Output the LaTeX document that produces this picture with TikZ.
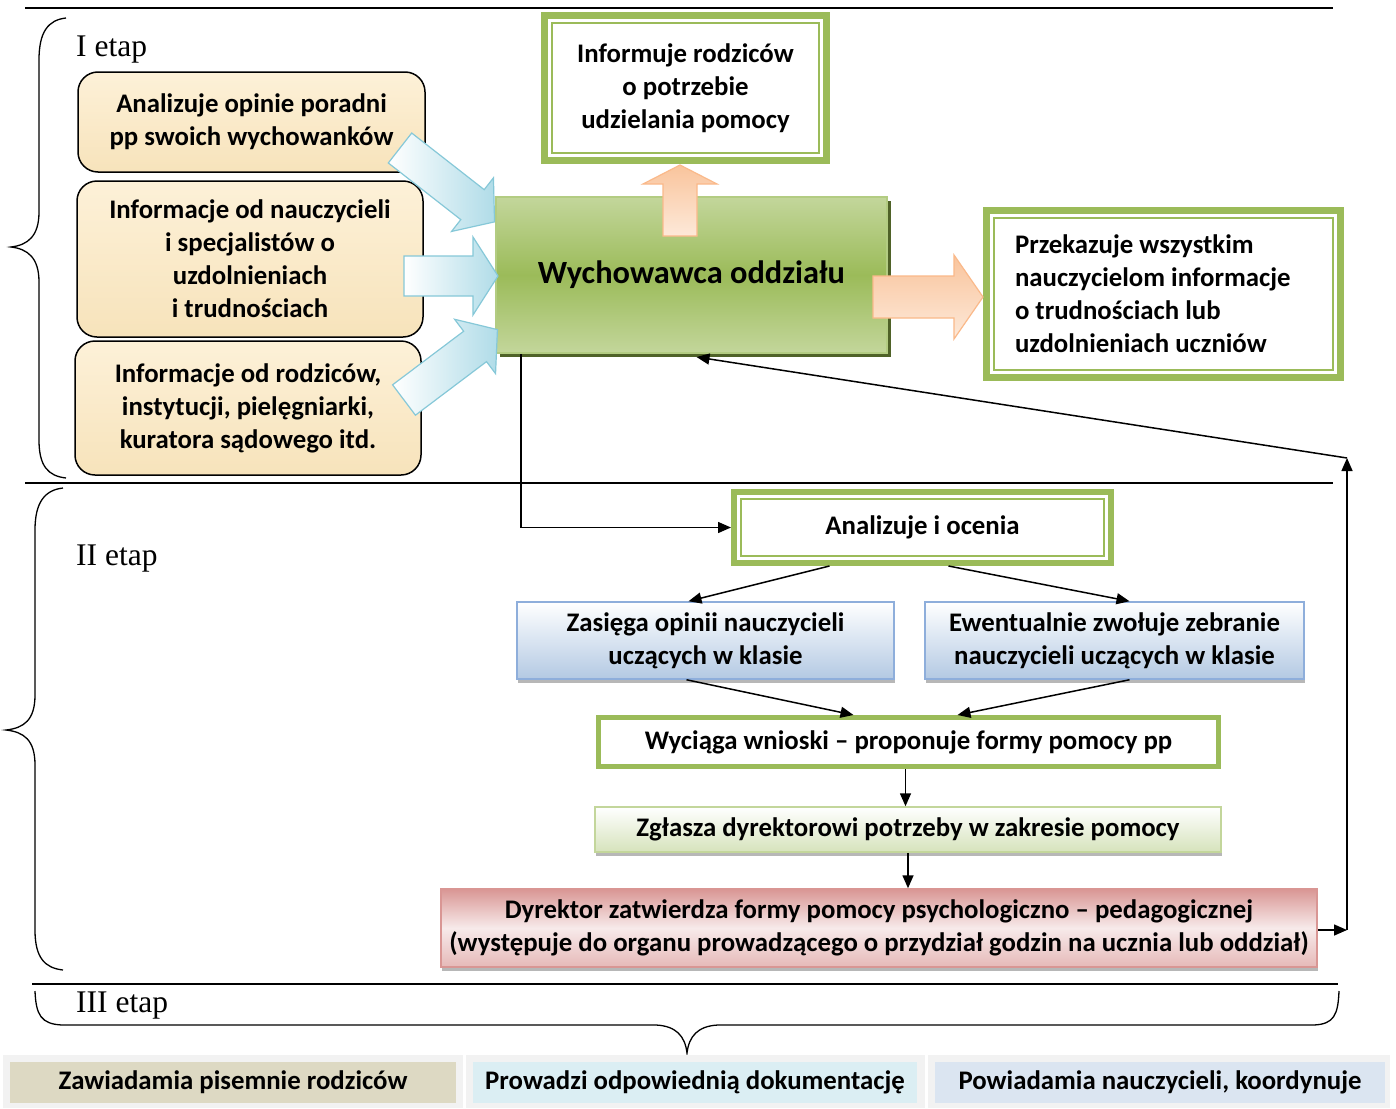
\documentclass[tikz,border=0pt]{standalone}
\usepackage{fontspec}
\setmainfont{Carlito}
\newfontfamily\stagefont{Liberation Serif}
\usetikzlibrary{calc,shadows,arrows.meta}

\definecolor{gband}{HTML}{9BBB59}
\definecolor{glight}{HTML}{C3D69B}
\definecolor{gborder}{HTML}{B3CC82}
\definecolor{gshadow}{HTML}{4F6228}
\definecolor{creamtop}{HTML}{FDF1D8}
\definecolor{creambot}{HTML}{F7E3BB}
\definecolor{bluebot}{HTML}{B3C9E3}
\definecolor{blueborder}{HTML}{8EAEDB}
\definecolor{zglbot}{HTML}{D6E3BC}
\definecolor{redtop}{HTML}{D99694}
\definecolor{redmid}{HTML}{F7EAEA}
\definecolor{redbot}{HTML}{E6B9B8}
\definecolor{redborder}{HTML}{D99694}
\definecolor{arrblue}{HTML}{B0DCE8}
\definecolor{arrblueb}{HTML}{86C8D8}
\definecolor{arrorange}{HTML}{F9C49C}
\definecolor{arrorangel}{HTML}{FDE9D9}
\definecolor{arrorangeb}{HTML}{FAB98A}
\definecolor{panelgray}{HTML}{F2F2F2}
\definecolor{boxA}{HTML}{DDD9C3}
\definecolor{boxB}{HTML}{DBEEF3}
\definecolor{boxC}{HTML}{DBE5F1}
\definecolor{hatch}{HTML}{A6A6A6}

% block arrow: style, x, y, angle, length, shaft half, head half, head length
\newcommand{\blockarr}[8]{%
  \begin{scope}[shift={(#2,#3)},rotate=#4]
    \path[#1] (0,-#6) -- ({#5-#8},-#6) -- ({#5-#8},-#7) -- (#5,0)
      -- ({#5-#8},#7) -- ({#5-#8},#6) -- (0,#6) -- cycle;
  \end{scope}}

\tikzset{
  boxtext/.style={font=\fontsize{26.8}{33}\selectfont\bfseries, align=center, inner sep=0pt},
  creambox/.style={boxtext, draw=black, line width=1.5pt, rounded corners=20pt,
    top color=creamtop, bottom color=creambot},
  framebox/.style={boxtext, draw=gband, line width=7pt, fill=white},
  innerline/.style={draw=gband, line width=1.6pt},
  bluebox/.style={boxtext, draw=blueborder, line width=1.5pt, top color=white, bottom color=bluebot,
    drop shadow={shadow xshift=1pt, shadow yshift=-4pt, fill=hatch, opacity=0.8}},
  conn/.style={line width=1.5pt, -{Triangle[length=13pt,width=11pt]}},
  bluearr/.style={left color=white, right color=arrblue, draw=arrblueb, line width=1.2pt},
  orangearr/.style={top color=arrorange, bottom color=arrorangel, draw=arrorangeb, line width=1.2pt},
  bottombox/.style={boxtext, minimum height=41pt},
  stage/.style={font=\stagefont\fontsize{31.5}{35}\selectfont, anchor=west, inner sep=0pt},
  rule/.style={line width=1.5pt},
  bracestyle/.style={line width=1.3pt}
}

\begin{document}
\begin{tikzpicture}[x=1pt,y=-1pt]
\useasboundingbox[fill=white] (0,0) rectangle (1396,1108);

% horizontal rules
\draw[rule] (25,8) -- (1333,8);
\draw[rule] (25,483) -- (1333,483);
\draw[rule] (32,984) -- (1338,984);

% braces
\draw[bracestyle] (66,18) .. controls (48,20) and (39,32) .. (39,60) -- (39,212)
  .. controls (39,236) and (28,245) .. (11,247) .. controls (28,249) and (39,258) .. (39,282)
  -- (39,440) .. controls (39,466) and (48,476) .. (66,478);
\draw[bracestyle] (63,488) .. controls (45,490) and (35,502) .. (35,530) -- (35,695)
  .. controls (35,720) and (24,728) .. (6,730) .. controls (24,732) and (35,740) .. (35,765)
  -- (35,930) .. controls (35,958) and (45,968) .. (63,970);
\draw[bracestyle] (35,991) .. controls (36,1015) and (41,1024) .. (62,1025) -- (656,1025)
  .. controls (676,1026) and (685,1036) .. (687,1053) .. controls (689,1036) and (698,1026) .. (718,1025)
  -- (1314,1025) .. controls (1334,1024) and (1338,1015) .. (1339,991);

% stage labels
\node[stage] (s1) at (76,50) {I etap};
\node[stage] (s2) at (76,559) {II etap};
\node[stage] (s3) at (76,1006) {III etap};

% ---- Stage I ----
\node[creambox, minimum width=347pt, minimum height=100pt] (l1) at (251.5,122)
  {Analizuje opinie poradni\\pp swoich wychowanków};
\node[creambox, minimum width=346pt, minimum height=156pt] (l2) at (250,259)
  {Informacje od nauczycieli\\i specjalistów o\\uzdolnieniach\\i trudnościach};
\node[creambox, minimum width=346pt, minimum height=134pt] (l3) at (248,408)
  {Informacje od rodziców,\\instytucji, pielęgniarki,\\kuratora sądowego itd.};

\node[boxtext, font=\fontsize{32.4}{36}\selectfont\bfseries, draw=gborder, line width=2pt,
  top color=glight, bottom color=glight, middle color=gband,
  minimum width=391pt, minimum height=156pt,
  drop shadow={shadow xshift=4pt, shadow yshift=-4pt, fill=gshadow, opacity=1}]
  (wych) at (691.5,275) {Wychowawca oddziału};

\node[framebox, minimum width=282pt, minimum height=145pt] (inf) at (685.5,88)
  {Informuje rodziców\\o potrzebie\\udzielania pomocy};
\draw[innerline] ($(inf.north west)+(11,11)$) rectangle ($(inf.south east)+(-11,-11)$);

\node[framebox, minimum width=354pt, minimum height=167pt, align=flush left, text width=297pt] (prz) at (1163.5,294)
  {Przekazuje wszystkim\\nauczycielom informacje\\o trudnościach lub\\uzdolnieniach uczniów};
\draw[innerline] ($(prz.north west)+(11,11)$) rectangle ($(prz.south east)+(-11,-11)$);

% block arrows
\blockarr{bluearr}{400}{148}{-38}{120}{19}{34}{28}
\blockarr{bluearr}{404}{276}{0}{94}{20}{39}{25}
\blockarr{bluearr}{404}{400}{37}{117}{19}{34}{28}
\blockarr{orangearr}{680}{236}{90}{71}{17}{37}{19}
\blockarr{orangearr}{873}{297}{0}{110}{21}{42}{29}

% ---- Stage II ----
\node[framebox, line width=6pt, minimum width=377pt, minimum height=71pt] (anal) at (922.5,527.5)
  {Analizuje i ocenia};
\draw[innerline] ($(anal.north west)+(10,10)$) rectangle ($(anal.south east)+(-10,-10)$);

\node[bluebox, minimum width=377pt, minimum height=77pt] (zas) at (705.5,640.5)
  {Zasięga opinii nauczycieli\\uczących w klasie};
\node[bluebox, minimum width=379pt, minimum height=77pt] (ewe) at (1114.5,640.5)
  {Ewentualnie zwołuje zebranie\\nauczycieli uczących w klasie};

\node[framebox, line width=5pt, minimum width=620pt, minimum height=49pt] (wyc) at (908.5,742)
  {Wyciąga wnioski – proponuje formy pomocy pp};

\node[boxtext, draw=glight, line width=1.5pt, top color=white, bottom color=zglbot,
  minimum width=626pt, minimum height=45pt,
  drop shadow={shadow xshift=1pt, shadow yshift=-4pt, fill=hatch, opacity=0.8}]
  (zgl) at (908,829.5) {Zgłasza dyrektorowi potrzeby w zakresie pomocy};

\node[boxtext, draw=redborder, line width=1.5pt, top color=redtop, bottom color=redbot, middle color=redmid,
  minimum width=876pt, minimum height=78pt,
  drop shadow={shadow xshift=1pt, shadow yshift=-4pt, fill=hatch, opacity=0.8}]
  (dyr) at (879,928)
  {Dyrektor zatwierdza formy pomocy psychologiczno – pedagogicznej\\(występuje do organu prowadzącego o przydział godzin na ucznia lub oddział)};

% connectors
\draw[conn] ([xshift=26pt]wych.south west) |- (anal.west);
\draw[conn] ([xshift=-93pt]anal.south) -- ([xshift=-17pt]zas.north);
\draw[conn] ([xshift=26pt]anal.south) -- ([xshift=15pt]ewe.north);
\draw[conn] ([xshift=-19pt]zas.south) -- ([xshift=-55pt]wyc.north);
\draw[conn] ([xshift=15pt]ewe.south) -- ([xshift=49pt]wyc.north);
\draw[conn] ([xshift=-3pt]wyc.south) -- ([xshift=-3pt]wyc.south |- zgl.north);
\draw[conn] (zgl.south) -- (zgl.south |- dyr.north);
\coordinate (rc1) at (1347,930);
\coordinate (rc2) at (1347,458);
\draw[conn] (dyr.east |- rc1) -- (rc1);
\draw[conn] (rc1) -- (rc2);
\draw[conn] (rc2) -- ([xshift=5pt,yshift=-3pt]wych.south);

% ---- Stage III ----
\fill[panelgray] (3,1055) rectangle (463,1108);
\fill[panelgray] (466,1055) rectangle (925,1108);
\fill[panelgray] (928,1055) rectangle (1390,1108);
\node[bottombox, fill=boxA, minimum width=446pt] (ba) at (233,1082.5) {Zawiadamia pisemnie rodziców};
\node[bottombox, fill=boxB, minimum width=444pt] (bb) at (695,1082.5) {Prowadzi odpowiednią dokumentację};
\node[bottombox, fill=boxC, minimum width=450pt] (bc) at (1160,1082.5) {Powiadamia nauczycieli, koordynuje};
\end{tikzpicture}
\end{document}
